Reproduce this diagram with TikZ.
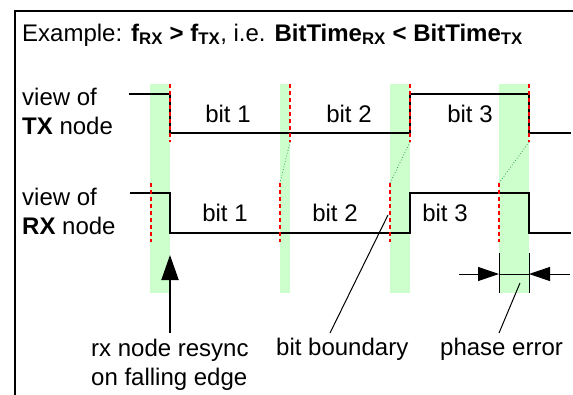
\documentclass[tikz,border=0pt]{standalone}
\usepackage{fontspec}
\setmainfont{Liberation Sans}
\usepackage{xcolor}
\usetikzlibrary{positioning,arrows.meta}
\definecolor{zonegreen}{HTML}{CCFFCC}
\definecolor{linkgreen}{HTML}{3A9A6A}

\begin{document}
\begin{tikzpicture}[
					x=1pt, y=-1pt,
					every node/.style={font=\fontsize{24}{29}\selectfont, inner sep=0pt},
					txt/.style={anchor=base west, align=left},
					bitlbl/.style={anchor=base},
					sig/.style={line width=2pt},
					edgemark/.style={red, line width=2pt, dash pattern=on 4pt off 3pt},
					zone/.style={fill=zonegreen, draw=none},
					link/.style={linkgreen, line width=0.8pt, dotted},
					lead/.style={line width=1pt},
					dim/.style={line width=1pt, -{Triangle[length=21pt,width=14pt]}}
					]
					\useasboundingbox (0,0) rectangle (573,394);
					
					% --- FRAME ---
					\draw[line width=2pt] (15,400) -- (15,11) -- (580,11);
					\node[txt] (title) at (22,41) {Example: \textbf{f\textsubscript{RX} > f\textsubscript{TX}}, i.e. \textbf{BitTime\textsubscript{RX} < BitTime\textsubscript{TX}}};
					
					% --- GREEN ZONES ---
					\fill[zone] (150,84) rectangle (170,293);
					\fill[zone] (280,84) rectangle (290,293);
					\fill[zone] (390,84) rectangle (410,293);
					\fill[zone] (499,84) rectangle (529,293);
					
					% --- TX NODE ---
					\node[txt] (txname) at (22,134) {view of\\\textbf{TX} node};
					\draw[sig] (129,94) -- (170,94) -- (170,133) -- (410,133) -- (410,94) -- (529,94) -- (529,133) -- (571,133);
					\node[bitlbl] (tx1) at (228,122) {bit 1};
					\node[bitlbl] (tx2) at (349,122) {bit 2};
					\node[bitlbl] (tx3) at (470,122) {bit 3};
					\coordinate (ta) at (170,142);
					\coordinate (tb) at (290,142);
					\coordinate (tc) at (410,142);
					\coordinate (td) at (529,142);
					\draw[edgemark] (170,84) -- (ta);
					\draw[edgemark] (290,84) -- (tb);
					\draw[edgemark] (410,84) -- (tc);
					\draw[edgemark] (529,84) -- (td);
					
					% --- RX NODE ---
					\node[txt] (rxname) at (22,234) {view of\\\textbf{RX} node};
					\draw[sig] (130,193) -- (170,193) -- (170,233) -- (410,233) -- (410,193) -- (529,193) -- (529,233) -- (571,233);
					\node[bitlbl] (rx1) at (225,221) {bit 1};
					\node[bitlbl] (rx2) at (335,221) {bit 2};
					\node[bitlbl] (rx3) at (445,221) {bit 3};
					\coordinate (ra) at (151,183);
					\coordinate (rb) at (280,183);
					\coordinate (rc) at (390,183);
					\coordinate (rd) at (499,183);
					\draw[edgemark] (ra) -- (151,242);
					\draw[edgemark] (rb) -- (280,242);
					\draw[edgemark] (rc) -- (390,242);
					\draw[edgemark] (rd) -- (499,242);
					
					% boundary shift TX -> RX
					\draw[link] (tb) -- (rb);
					\draw[link] (tc) -- (rc);
					\draw[link] (td) -- (rd);
					
					% --- PHASE ERROR ---
					\coordinate (pl) at (499,274);
					\coordinate (pr) at (529,274);
					\draw[lead] (499,253) -- (499,293);
					\draw[lead] (529,253) -- (529,293);
					\draw[dim] (459,274) -- (pl);
					\draw[lead] (pl) -- (pr);
					\draw[dim] (570,274) -- (pr);
					
					% --- LABELS ---
					\node[txt] (resync) at (91,385) {rx node resync\\on falling edge};
					\node[txt] (bound) at (276,355) {bit boundary};
					\node[txt] (phase) at (440,355) {phase error};
					\coordinate (resynctop) at (170,333);
					\coordinate (boundtop) at (330,333);
					\coordinate (phasetop) at (499,333);
					\draw[line width=2pt, -{Triangle[length=25pt,width=17pt]}] (resynctop) -- (170,255);
					\draw[lead] (boundtop) -- (388,215);
					\draw[lead] (phasetop) -- (520,283);
					
				\end{tikzpicture}
\end{document}
